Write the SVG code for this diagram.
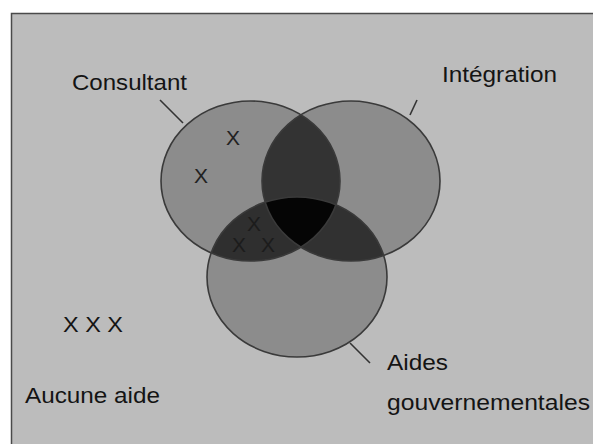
<svg xmlns="http://www.w3.org/2000/svg" width="593" height="444" viewBox="0 0 593 444">
<style>
.lbl{font-family:"Liberation Sans",Arial,sans-serif;font-size:22px;fill:#141414}
.mark{font-family:"Liberation Sans",Arial,sans-serif;font-size:21px;fill:#222222}
.dim{font-family:"Liberation Sans",Arial,sans-serif;font-size:21px;fill:#1c1c1c}
.set{fill:#8c8c8c}
.ring{fill:none;stroke:#3a3a3a;stroke-width:1.6}
.lead{stroke:#333;stroke-width:1.6;fill:none}
</style>
<defs>
<ellipse id="e1" cx="250.5" cy="181" rx="89.5" ry="80"/>
<ellipse id="e2" cx="351" cy="181" rx="89" ry="80"/>
<ellipse id="e3" cx="297" cy="277" rx="90" ry="80"/>
<clipPath id="c1"><use href="#e1"/></clipPath>
<clipPath id="c2"><use href="#e2"/></clipPath>
<clipPath id="c3"><use href="#e3"/></clipPath>
</defs>
<rect x="0" y="0" width="593" height="444" fill="#ffffff"/>
<rect x="11.5" y="13.5" width="600" height="440" fill="#bcbcbc" stroke="#4a4a4a" stroke-width="1.5"/>
<g id="consultant">
<use href="#e1" class="set"/>
<text class="lbl" x="72" y="90" textLength="115" lengthAdjust="spacingAndGlyphs">Consultant</text>
<text class="mark" x="226" y="145">X</text>
<text class="mark" x="194" y="183">X</text>
</g>
<g id="integration">
<use href="#e2" class="set"/>
<text class="lbl" x="442" y="82" textLength="115" lengthAdjust="spacingAndGlyphs">Intégration</text>
</g>
<g id="aides">
<use href="#e3" class="set"/>
<text class="lbl" x="387" y="370" textLength="61" lengthAdjust="spacingAndGlyphs">Aides</text>
<text class="lbl" x="387" y="410" textLength="203" lengthAdjust="spacingAndGlyphs">gouvernementales</text>
</g>
<g id="overlaps">
<use href="#e2" clip-path="url(#c1)" fill="#333333"/>
<use href="#e3" clip-path="url(#c1)" fill="#2f2f2f"/>
<use href="#e3" clip-path="url(#c2)" fill="#313131"/>
<g clip-path="url(#c1)"><use href="#e3" clip-path="url(#c2)" fill="#050505"/></g>
<text class="dim" x="232" y="252">X</text>
<text class="dim" x="261" y="252">X</text>
<text class="dim" x="247" y="231">X</text>
</g>
<g id="outlines">
<use href="#e1" class="ring"/>
<use href="#e2" class="ring"/>
<use href="#e3" class="ring"/>
</g>
<g id="aucune">
<text class="lbl" x="63" y="332" textLength="60" lengthAdjust="spacingAndGlyphs">X X X</text>
<text class="lbl" x="25" y="403" textLength="135" lengthAdjust="spacingAndGlyphs">Aucune aide</text>
</g>
<g id="connectors">
<line class="lead" x1="160" y1="100" x2="183" y2="123"/>
<line class="lead" x1="417" y1="100" x2="410" y2="115"/>
<line class="lead" x1="350" y1="343" x2="370" y2="363"/>
</g>
</svg>
